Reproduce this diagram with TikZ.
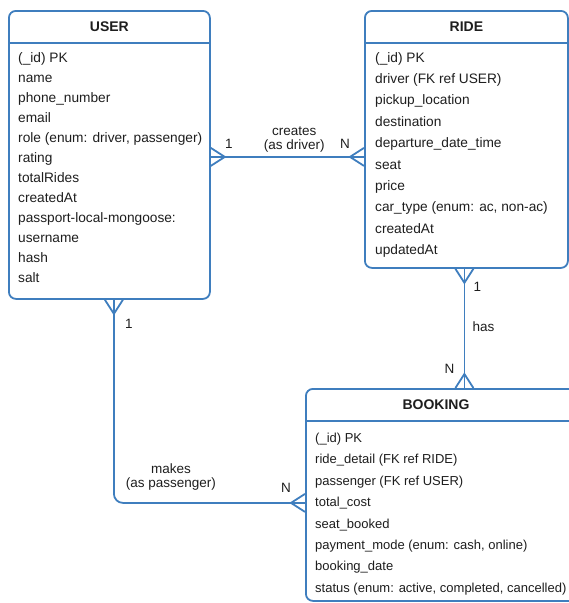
\documentclass[tikz,border=0pt]{standalone}
\usepackage{fontspec}
\setmainfont{Liberation Sans}
\usetikzlibrary{calc}
\definecolor{erblue}{HTML}{3F7EBE}
\definecolor{ertext}{HTML}{1E1E1E}
\begin{document}
\begin{tikzpicture}[x=1pt,y=-1pt,
  entity/.style={draw=erblue, line width=1.8pt, rounded corners=7pt, anchor=north west, inner sep=0pt, fill=white},
  sepline/.style={draw=erblue, line width=1.5pt},
  etitle/.style={font=\fontsize{14}{16}\selectfont\bfseries, text=ertext, inner sep=0pt},
  attr/.style={font=\fontsize{13.7}{16}\selectfont, text=ertext, anchor=west, inner sep=0pt, text height=9.8pt, text depth=2.8pt},
  battr/.style={attr, font=\fontsize{13}{16}\selectfont},
  lbl/.style={font=\fontsize{13.5}{16}\selectfont, text=ertext, inner sep=0pt, align=center},
  conn/.style={draw=erblue, line width=1.8pt},
  crowright/.pic={\draw[conn] (0,-9) -- (14,0) -- (0,9);},
  crowleft/.pic={\draw[conn] (0,-9) -- (-14,0) -- (0,9);},
  crowdown/.pic={\draw[conn] (-9,0) -- (0,14) -- (9,0);},
  crowup/.pic={\draw[conn] (-9,0) -- (0,-14) -- (9,0);}
]
\useasboundingbox (0,0) rectangle (569,603);

% USER
\node[entity, minimum width=201pt, minimum height=288pt] (user) at (8,10) {};
\draw[sepline] ($(user.north west)+(0,33)$) -- ($(user.north east)+(0,33)$);
\node[etitle] (usert) at ($(user.north)+(0,17)$) {USER};
\foreach \t [count=\i from 0] in {(\_id) PK,name,phone\_number,email,{role (enum: driver, passenger)},rating,totalRides,createdAt,passport-local-mongoose:,username,hash,salt}
  \node[attr] (usera\i) at ($(user.north west)+(10,48.5+20.05*\i)$) {\t};

% RIDE
\node[entity, minimum width=203pt, minimum height=257pt] (ride) at (364,10) {};
\draw[sepline] ($(ride.north west)+(0,33)$) -- ($(ride.north east)+(0,33)$);
\node[etitle] (ridet) at ($(ride.north)+(0,17)$) {RIDE};
\foreach \t [count=\i from 0] in {(\_id) PK,driver (FK ref USER),pickup\_location,destination,departure\_date\_time,seat,price,{car\_type (enum: ac, non-ac)},createdAt,updatedAt}
  \node[attr] (ridea\i) at ($(ride.north west)+(11,48.5+21.4*\i)$) {\t};

% BOOKING (its right edge runs past the picture's edge)
\node[entity, minimum width=272pt, minimum height=212pt] (booking) at (305,388) {};
\draw[sepline] ($(booking.north west)+(0,33)$) -- ($(booking.north west)+(272,33)$);
\node[etitle] (bookingt) at ($(booking.north west)+(131,17)$) {BOOKING};
\foreach \t [count=\i from 0] in {(\_id) PK,ride\_detail (FK ref RIDE),passenger (FK ref USER),total\_cost,seat\_booked,{payment\_mode (enum: cash, online)},booking\_date,{status (enum: active, completed, cancelled)}}
  \node[battr] (bookinga\i) at ($(booking.north west)+(10,51+21.4*\i)$) {\t};

% creates (as driver)
\coordinate (c1) at ($(user.east)+(0,2)$);
\coordinate (c2) at (ride.west |- c1);
\draw[conn] (c1) -- (c2);
\pic at (c1) {crowright};
\pic at (c2) {crowleft};
\node[lbl] (l1a) at ($(c1)+(18,-13)$) {1};
\node[lbl] (l1b) at ($(c2)+(-19,-13)$) {N};
\node[lbl] (l1c) at ($(c1)!0.545!(c2)+(0,-17)$) {creates\\[-2pt](as driver)};

% has
\coordinate (h1) at ($(ride.south)+(-2,0)$);
\coordinate (h2) at (h1 |- booking.north);
\draw[conn] (h1) -- (h2);
\pic at (h1) {crowdown};
\pic at (h2) {crowup};
\node[lbl] (l2a) at ($(h1)+(13,18)$) {1};
\node[lbl] (l2b) at ($(h2)+(-15,-19)$) {N};
\node[lbl] (l2c) at ($(h1)+(19,58)$) {has};

% makes (as passenger)
\coordinate (m1) at ($(user.south)+(4.5,0)$);
\coordinate (m2) at ($(booking.west)+(0,8)$);
\draw[conn, rounded corners=9pt] (m1) |- (m2);
\pic at (m1) {crowdown};
\pic at (m2) {crowleft};
\node[lbl] (l3a) at ($(m1)+(15,24)$) {1};
\node[lbl] (l3b) at ($(m2)+(-19,-15)$) {N};
\node[lbl] (l3c) at ($(m1 |- m2)+(57,-26)$) {makes\\[-2pt](as passenger)};
\end{tikzpicture}
\end{document}
